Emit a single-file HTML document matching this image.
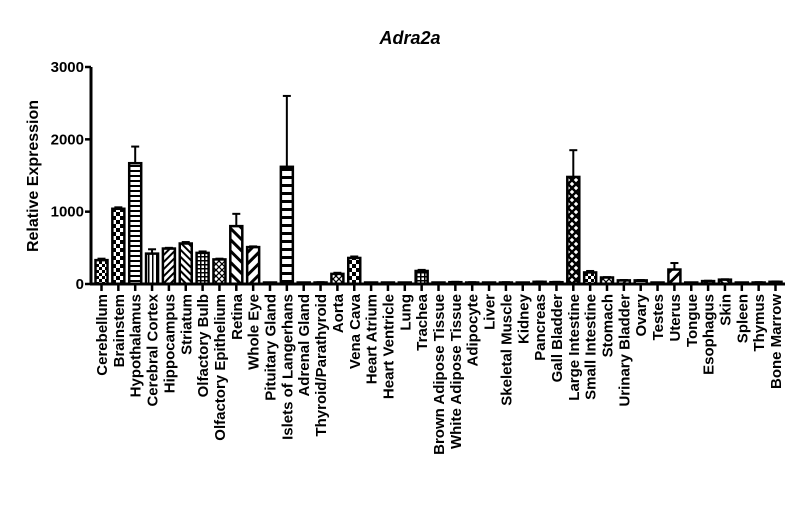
<!DOCTYPE html>
<html><head><meta charset="utf-8"><style>
html,body{margin:0;padding:0;background:#fff;width:800px;height:522px;overflow:hidden}
svg{font-family:"Liberation Sans",Arial,sans-serif;font-weight:bold}
</style></head><body>
<svg id="chart" width="800" height="522">
<defs>
<pattern id="p0" width="6" height="6" patternUnits="userSpaceOnUse"><rect width="3" height="3" fill="#000"/><rect x="3" y="3" width="3" height="3" fill="#000"/></pattern>
<pattern id="p1" width="8" height="8" patternUnits="userSpaceOnUse"><rect width="4" height="4" fill="#000"/><rect x="4" y="4" width="4" height="4" fill="#000"/></pattern>
<pattern id="p2" width="4" height="5" patternUnits="userSpaceOnUse"><rect y="0" width="4" height="2" fill="#000"/></pattern>
<pattern id="p3" width="4" height="4" patternUnits="userSpaceOnUse"><rect x="0" width="1.5" height="4" fill="#000"/></pattern>
<pattern id="p4" width="5" height="5" patternUnits="userSpaceOnUse" patternTransform="rotate(45)"><rect width="2" height="5" fill="#000"/></pattern>
<pattern id="p5" width="5" height="5" patternUnits="userSpaceOnUse" patternTransform="rotate(-45)"><rect width="2" height="5" fill="#000"/></pattern>
<pattern id="p6" width="4" height="4" patternUnits="userSpaceOnUse"><rect width="4" height="1.5" fill="#000"/><rect width="1.5" height="4" fill="#000"/></pattern>
<pattern id="p7" width="6" height="6" patternUnits="userSpaceOnUse"><path d="M0 0L6 6M6 0L0 6" stroke="#000" stroke-width="1.3"/></pattern>
<pattern id="p8" width="8" height="8" patternUnits="userSpaceOnUse" patternTransform="rotate(-45)"><rect width="3" height="8" fill="#000"/></pattern>
<pattern id="p9" width="8" height="8" patternUnits="userSpaceOnUse" patternTransform="rotate(45)"><rect width="3" height="8" fill="#000"/></pattern>
<pattern id="p10" width="8" height="8" patternUnits="userSpaceOnUse"><rect width="8" height="3" fill="#000"/></pattern>
<pattern id="p11" width="8" height="8" patternUnits="userSpaceOnUse"><path d="M0 0L8 8M8 0L0 8" stroke="#000" stroke-width="2.5"/></pattern>
</defs>
<text x="410" y="44" text-anchor="middle" font-size="18" font-style="italic">Adra2a</text>
<text transform="translate(38,176) rotate(-90)" text-anchor="middle" font-size="16">Relative Expression</text>
<g id="g"></g>
</svg>
<script>
const categories=["Cerebellum","Brainstem","Hypothalamus","Cerebral Cortex","Hippocampus","Striatum","Olfactory Bulb","Olfactory Epithelium","Retina","Whole Eye","Pituitary Gland","Islets of Langerhans","Adrenal Gland","Thyroid/Parathyroid","Aorta","Vena Cava","Heart Atrium","Heart Ventricle","Lung","Trachea","Brown Adipose Tissue","White Adipose Tissue","Adipocyte","Liver","Skeletal Muscle","Kidney","Pancreas","Gall Bladder","Large Intestine","Small Intestine","Stomach","Urinary Bladder","Ovary","Testes","Uterus","Tongue","Esophagus","Skin","Spleen","Thymus","Bone Marrow"];
const values=[330,1040,1670,420,490,560,430,340,800,510,5,1620,5,20,140,360,5,5,15,180,5,25,20,15,20,15,30,25,1480,160,90,50,50,5,200,10,40,60,5,20,30];
const errors=[20,20,230,60,10,20,20,10,170,10,0,980,0,5,15,20,0,0,5,15,0,5,5,5,5,5,5,5,370,20,5,5,5,0,90,5,5,5,0,5,5];
const yTicks=[0,1000,2000,3000];
const NS="http://www.w3.org/2000/svg";
const g=document.getElementById('g');
const y0=284,y1=67,yMax=3000,x0=101.5,step=16.85,bw=12;
const Y=v=>y0-(v/yMax)*(y0-y1);
const X=i=>x0+i*step;
function mk(t,a){const e=document.createElementNS(NS,t);for(const k in a)e.setAttribute(k,a[k]);g.appendChild(e);return e;}
const ax=mk('line',{x1:91,y1:y1,x2:91,y2:y0,stroke:'#000','stroke-width':3});


const xa=mk('line',{x1:90,y1:y0,x2:785,y2:y0,stroke:'#000','stroke-width':3});


yTicks.forEach(v=>{
 mk('line',{x1:85,x2:91,y1:Y(v),y2:Y(v),stroke:'#000','stroke-width':2.5});
 const t=mk('text',{x:84,y:Y(v)+5,'text-anchor':'end','font-size':15});
 t.textContent=v;
 
 
});
const pats=['p0','p1','p2','p3','p4','p5','p6','p7','p8','p9','','p10','p0','p4','p7','p1','p3','p2','p5','p6','p4','p3','p7','p1','p2','p9','p5','p6','p11','p0','p7','p4','p2','p3','p9','p6','p1','p5','p10','p4','p7'];
categories.forEach((c,i)=>{
 const cx=X(i),v=values[i],top=Y(v);
 if(errors[i]>0){
  const et=Y(v+errors[i]);
  mk('line',{x1:cx,x2:cx,y1:et,y2:top,stroke:'#000','stroke-width':2});
  mk('line',{x1:cx-4,x2:cx+4,y1:et,y2:et,stroke:'#000','stroke-width':2});
 }
 const h=Math.max(y0-top,1.5);
 const r=mk('rect',{x:cx-bw/2,y:y0-h,width:bw,height:h,fill:pats[i]?`url(#${pats[i]})`:'#fff',stroke:'#000','stroke-width':2.5});
 
 
 mk('line',{x1:cx,x2:cx,y1:y0,y2:y0+7,stroke:'#000','stroke-width':2.5});
 const t=mk('text',{transform:`translate(${cx+5.5},${y0+10}) rotate(-90)`,'text-anchor':'end','font-size':15});
 t.textContent=c;
 
 
});
</script>
</body></html>
